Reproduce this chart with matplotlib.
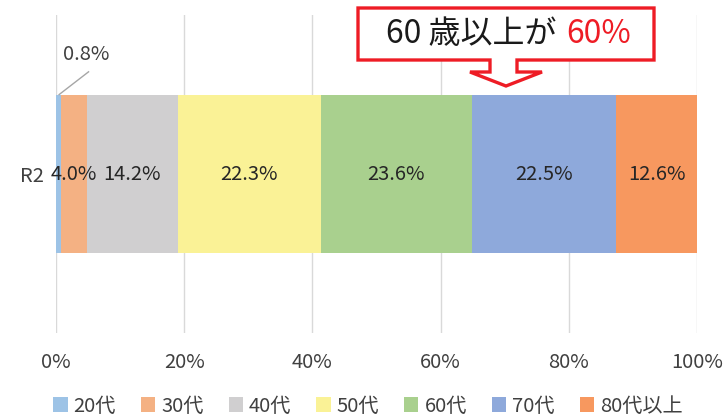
import numpy as np
import matplotlib.pyplot as plt
from matplotlib.patches import Polygon
from matplotlib.transforms import offset_copy

plt.rcParams['font.family'] = ['Noto Sans CJK JP', 'DejaVu Sans']

# data
row_label = 'R2'
groups = ['20代', '30代', '40代', '50代', '60代', '70代', '80代以上']
shares = [0.8, 4.0, 14.2, 22.3, 23.6, 22.5, 12.6]
colors = ['#9DC3E6', '#F4B183', '#D0CFD0', '#FAF296', '#A9D08E', '#8EA9DB', '#F7985F']
ticks = [0, 20, 40, 60, 80, 100]
callout_main = '60 歳以上が'
callout_red = '60%'

W, H = 724, 420
fig = plt.figure(figsize=(W / 100, H / 100), dpi=100)


def px(x, y):
    # pixel position -> figure fraction
    return x / W, 1 - y / H


ax = fig.add_axes([56 / W, 1 - 333 / H, (697 - 56) / W, (333 - 15) / H])
ax.set_xlim(0, 100)
ax.set_ylim(-0.5, 0.5)
ax.grid(axis='x', color='#D9D9D9', linewidth=1)
ax.set_axisbelow(True)
for s in ax.spines.values():
    s.set_visible(False)

txt = '#404040'
fs = 14.5
left = 0.0
bar_h = 158 / 318
for g, v, c in zip(groups, shares, colors):
    ax.barh([row_label], [v], left=left, height=bar_h, color=c, label=g)
    if v >= 2:
        ax.text(left + v / 2, 0, f'{v:.1f}%', ha='center', va='center',
                fontsize=fs, color='#262626')
    else:
        # small slice: label outside with a leader line
        ax_, ay_ = left + v / 2, bar_h / 2
        lead = offset_copy(ax.transData, fig=fig, x=22, y=17, units='points')
        p0 = ax.transData.transform((ax_, ay_))
        p1 = lead.transform((ax_, ay_))
        ax.plot([p0[0], p1[0]], [p0[1], p1[1]], transform=None,
                color='#A6A6A6', lw=1, solid_capstyle='butt')
        ax.annotate(f'{v:.1f}%', xy=(ax_, ay_), xytext=(20, 29),
                    textcoords='offset points', ha='center', va='center',
                    fontsize=fs, color=txt)
    left += v

ax.set_xticks(ticks)
ax.set_xticklabels([f'{t}%' for t in ticks])
ax.tick_params(axis='x', length=0, pad=14, labelsize=fs, labelcolor=txt)
ax.tick_params(axis='y', length=0, pad=9, labelsize=fs, labelcolor=txt)

fig.legend(loc='center', bbox_to_anchor=px(368, 406), ncol=7, frameon=False,
           fontsize=fs, labelcolor=txt, handlelength=0.7, handleheight=0.7,
           handletextpad=0.3, columnspacing=1.25)

# callout box with arrow
red = '#EE1C25'
shape = [(358, 8), (654, 8), (654, 60), (517, 60), (517, 72), (542, 72),
         (506, 86), (470, 72), (490, 72), (490, 60), (358, 60)]
poly = Polygon([px(x, y) for x, y in shape], closed=True, transform=fig.transFigure,
               facecolor='white', edgecolor=red, linewidth=2.4, zorder=5)
fig.patches.append(poly)
fig.text(*px(557, 34), callout_main, ha='right', va='center', fontsize=23,
         color='#1A1A1A', zorder=6)
fig.text(*px(566, 34), callout_red, ha='left', va='center', fontsize=23,
         color=red, zorder=6)

fig.savefig('out.png', dpi=100)
